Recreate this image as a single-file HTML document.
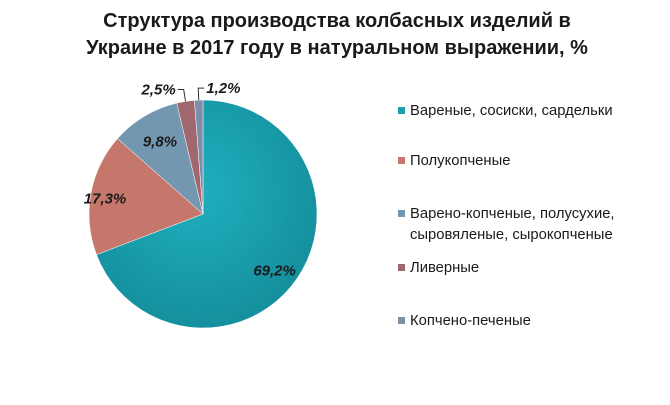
<!DOCTYPE html>
<html><head><meta charset="utf-8"><style>
body{margin:0;background:#fff;}
svg text{font-family:"Liberation Sans",sans-serif;}
</style></head><body>
<svg width="670" height="400">
<defs>
<radialGradient id="g0" cx="0.45" cy="0.4" r="0.7"><stop offset="0" stop-color="#1fb0bf"/><stop offset="1" stop-color="#138a98"/></radialGradient>
</defs>
<text x="337" y="27" text-anchor="middle" font-size="20" font-weight="bold" fill="#1a1a1a">Структура производства колбасных изделий в</text>
<text x="337" y="54" text-anchor="middle" font-size="20" font-weight="bold" fill="#1a1a1a">Украине в 2017 году в натуральном выражении, %</text>
<g id="pie"></g>
<g id="legend"></g>
</svg>
<script>
const categories=["Вареные, сосиски, сардельки","Полукопченые","Варено-копченые, полусухие, сыровяленые, сырокопченые","Ливерные","Копчено-печеные"];
const values=[69.2,17.3,9.8,2.5,1.2];
const valueLabels=["69,2%","17,3%","9,8%","2,5%","1,2%"];
const colors=["url(#g0)","#c6776c","#7397b1","#a0686e","#7d8ea8"];
const legendColors=["#1a9fae","#c6776c","#7397b1","#a0686e","#7d8ea8"];
const legendLines=[["Вареные, сосиски, сардельки"],["Полукопченые"],["Варено-копченые, полусухие,","сыровяленые, сырокопченые"],["Ливерные"],["Копчено-печеные"]];
const NS="http://www.w3.org/2000/svg";
const cx=203,cy=214,r=114;
const total=values.reduce((a,b)=>a+b,0);
const pie=document.getElementById('pie');
function pt(a,rr){return [cx+rr*Math.sin(a),cy-rr*Math.cos(a)];}
let a0=0;
values.forEach((v,i)=>{
  const a1=a0+v/total*2*Math.PI;
  const p0=pt(a0,r),p1=pt(a1,r);
  const large=(a1-a0)>Math.PI?1:0;
  const path=document.createElementNS(NS,'path');
  path.setAttribute('d',`M${cx},${cy}L${p0[0]},${p0[1]}A${r},${r} 0 ${large} 1 ${p1[0]},${p1[1]}Z`);
  path.setAttribute('fill',colors[i]);
  path.setAttribute('stroke','#fff');path.setAttribute('stroke-width','0.5');
  
  
  pie.appendChild(path);
  const mid=(a0+a1)/2;
  const t=document.createElementNS(NS,'text');
  let lp;
  if(v<5){
    const e=pt(mid,r),o=pt(mid,r+12);
    const lx=i===3?o[0]-6:o[0]+6;
    const ln=document.createElementNS(NS,'polyline');
    ln.setAttribute('points',`${e[0]},${e[1]} ${o[0]},${o[1]} ${lx},${o[1]}`);
    ln.setAttribute('fill','none');ln.setAttribute('stroke','#333');
    
    
    pie.appendChild(ln);
    t.setAttribute('x',i===3?lx-2:lx+2);t.setAttribute('y',o[1]+5);
    t.setAttribute('text-anchor',i===3?'end':'start');
  } else {
    const rf=v>50?0.72:(v>15?0.82:0.7);
    lp=pt(mid,r*rf);
    const dy=v>50?10:(v>15?1:-4);
    const dx=v>50?4:(v>15?-6:-2);
    t.setAttribute('x',lp[0]+dx);t.setAttribute('y',lp[1]+5+dy);
    t.setAttribute('text-anchor','middle');
  }
  t.setAttribute('font-size','15');t.setAttribute('font-weight','bold');t.setAttribute('font-style','italic');t.setAttribute('fill','#1a1a1a');
  t.textContent=valueLabels[i];
  
  
  pie.appendChild(t);
  a0=a1;
});
const lg=document.getElementById('legend');
const ly=[115,165,218,272,325];
legendLines.forEach((lines,i)=>{
  const g=document.createElementNS(NS,'g');
  
  
  const s=document.createElementNS(NS,'rect');
  s.setAttribute('x',398);s.setAttribute('y',ly[i]-8);s.setAttribute('width',7);s.setAttribute('height',7);
  s.setAttribute('fill',legendColors[i]);
  
  
  g.appendChild(s);
  lines.forEach((l,j)=>{
    const t=document.createElementNS(NS,'text');
    t.setAttribute('x',410);t.setAttribute('y',ly[i]+j*21);
    t.setAttribute('font-size','14.8');t.setAttribute('fill','#1a1a1a');
    t.textContent=l;
    
    
    g.appendChild(t);
  });
  lg.appendChild(g);
});
</script>
</body></html>
